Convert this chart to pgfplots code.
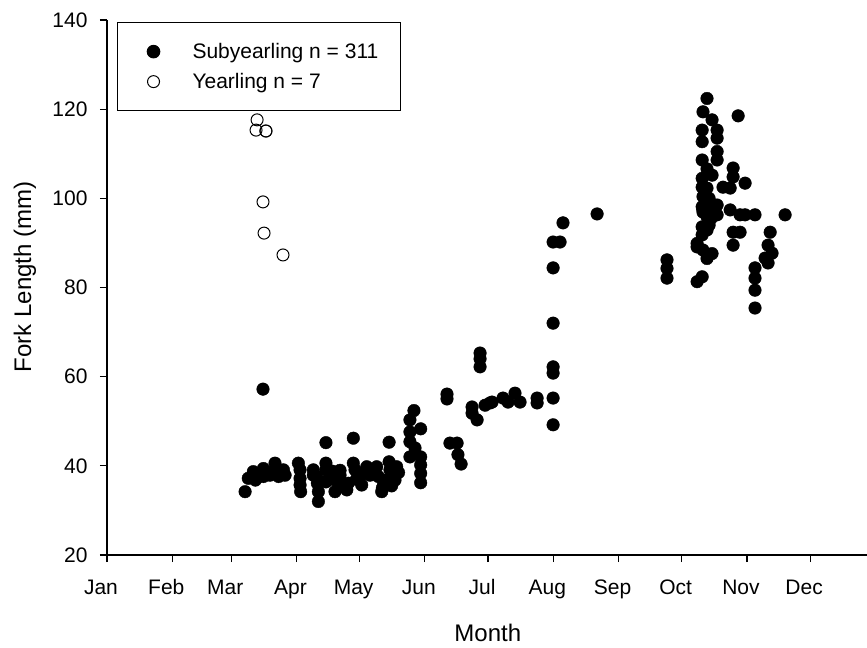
\documentclass[border=0pt]{standalone}
\usepackage{fontspec}
\setmainfont{Liberation Sans}
\usepackage{pgfplots}
\usepackage{pgfplotstable}
\pgfplotsset{compat=1.18}

% day of year (Jan 1 = 0), fork length (mm)
\pgfplotstableread{
day len
65.6 34.2
67.1 37.2
69.5 38.7
70.5 36.8
72.0 37.6
74.3 39.4
74.3 37.6
76.0 38.5
77.4 37.9
79.8 40.6
79.8 39.1
81.5 37.6
83.8 39.1
84.6 37.9
90.9 40.6
91.7 39.1
91.7 37.2
91.7 35.7
92.0 34.2
98.0 39.1
98.0 37.9
99.6 37.6
99.9 36.1
100.4 34.2
100.4 32.0
104.0 45.2
104.0 40.6
104.0 39.1
104.0 36.4
105.9 37.9
107.0 38.8
108.3 34.2
108.3 36.8
110.7 37.9
110.7 39.0
112.0 35.5
113.9 34.6
114.6 36.1
117.0 46.2
117.0 40.6
117.8 39.1
118.5 37.0
120.2 37.6
121.0 35.7
122.0 38.5
123.4 39.8
124.9 37.9
126.0 38.8
128.1 39.8
128.9 37.6
130.5 34.2
130.8 35.0
131.3 35.7
132.5 36.8
134.0 45.3
134.0 40.9
134.4 39.1
135.2 35.5
136.8 36.8
137.6 39.8
138.5 38.5
143.9 50.3
143.9 47.6
143.9 45.4
143.9 42.0
145.8 52.4
146.3 44.0
149.0 48.3
149.0 42.0
149.0 40.2
149.0 38.3
149.0 36.2
161.5 56.1
161.5 55.0
162.9 45.1
166.3 45.1
166.7 42.5
168.2 40.4
173.4 53.2
173.4 51.8
175.8 50.3
177.2 65.3
177.2 64.0
177.2 62.2
179.6 53.6
181.9 54.1
182.9 54.3
188.1 55.2
190.5 54.3
193.8 56.3
196.2 54.3
204.3 55.2
204.3 54.1
211.9 90.2
211.9 84.4
211.9 72.0
211.9 62.2
211.9 60.8
211.9 55.2
211.9 49.2
215.2 90.2
216.6 94.5
232.8 96.5
266.0 86.2
266.0 84.3
266.0 82.1
280.3 81.3
282.7 82.4
285.0 122.4
283.1 119.4
287.4 117.6
282.7 115.3
289.8 115.3
289.8 113.5
282.7 112.7
289.8 110.5
289.8 108.6
282.7 108.6
285.0 106.6
287.4 105.2
282.7 104.5
282.7 102.5
285.0 102.3
283.1 100.4
282.7 98.1
283.1 96.9
287.4 98.0
289.8 98.5
289.8 96.3
285.0 95.9
282.7 93.6
285.0 92.9
282.7 91.8
280.3 89.9
280.3 89.1
283.1 88.4
285.0 86.5
287.4 87.6
284.0 97.0
286.0 96.0
288.0 97.0
285.0 99.0
284.0 101.0
286.0 100.0
288.0 96.5
287.0 95.5
284.0 93.5
286.0 94.0
283.0 97.5
285.0 97.5
297.4 106.8
297.4 104.8
292.6 102.5
296.0 102.3
303.1 103.4
296.0 97.4
300.7 96.3
303.1 96.3
307.8 96.3
322.1 96.3
299.8 118.5
297.4 92.4
300.7 92.4
297.4 89.5
315.0 92.4
314.0 89.5
315.9 87.7
312.6 86.6
314.0 85.5
307.8 84.4
307.8 82.1
307.8 79.4
307.8 75.4
74.1 57.2
}\subyearling

\pgfplotstableread{
day len
71.3 117.6
70.8 115.3
75.5 115.1
75.5 115.1
74.1 99.2
74.6 92.2
83.6 87.3
}\yearling

\begin{document}
\begin{tikzpicture}
\useasboundingbox (-107bp,-93bp) rectangle (760bp,555bp);
\begin{axis}[
  at={(0,0)}, anchor=south west,
  scale only axis,
  width=760bp, height=535bp,
  xmin=0, xmax=361,
  ymin=20, ymax=140,
  axis x line=bottom, axis y line=left,
  axis line style={-, line width=1.2bp},
  tick style={line width=1.2bp, black},
  tick align=outside,
  major tick length=7bp,
  xtick={0,31,59,90,120,151,181,212,243,273,304,334},
  xticklabels={Jan,Feb,Mar,Apr,May,Jun,Jul,Aug,Sep,Oct,Nov,Dec},
  ytick={20,40,60,80,100,120,140},
  /pgf/number format/assume math mode=true,
  tick label style={font=\fontsize{21bp}{24bp}\selectfont},
  xticklabel style={anchor=north, xshift=-6bp, yshift=-14bp,
    text height=15bp, text depth=4bp},
  yticklabel style={xshift=-9bp},
  xlabel={Month},
  ylabel={Fork Length (mm)},
  label style={font=\fontsize{24bp}{28bp}\selectfont},
  xlabel style={at={(axis description cs:0.501,-0.146)}, anchor=center},
  ylabel style={at={(axis description cs:-0.108,0.52)}, anchor=center},
  legend style={
    at={(axis description cs:0.0132,0.996)}, anchor=north west,
    draw=black, line width=1bp,
    inner xsep=12bp, inner ysep=14bp,
    nodes={inner sep=0pt},
    font=\fontsize{21bp}{24bp}\selectfont,
  },
  legend cell align=left,
  legend image code/.code={
    \path[draw=none] (-24bp,-15bp) rectangle (39bp,15bp);
    \draw[#1] plot coordinates {(0bp,0bp)};
  },
]
\addplot[only marks, mark=*, mark size=6.3bp, mark options={draw=black, fill=black}]
  table[x=day, y=len] {\subyearling};
\addlegendentry{Subyearling n = 311\hspace*{10bp}}
\addplot[only marks, mark=o, mark size=6bp, mark options={draw=black, fill=white, line width=1bp}]
  table[x=day, y=len] {\yearling};
\addlegendentry{Yearling n = 7}
\end{axis}
\end{tikzpicture}
\end{document}
